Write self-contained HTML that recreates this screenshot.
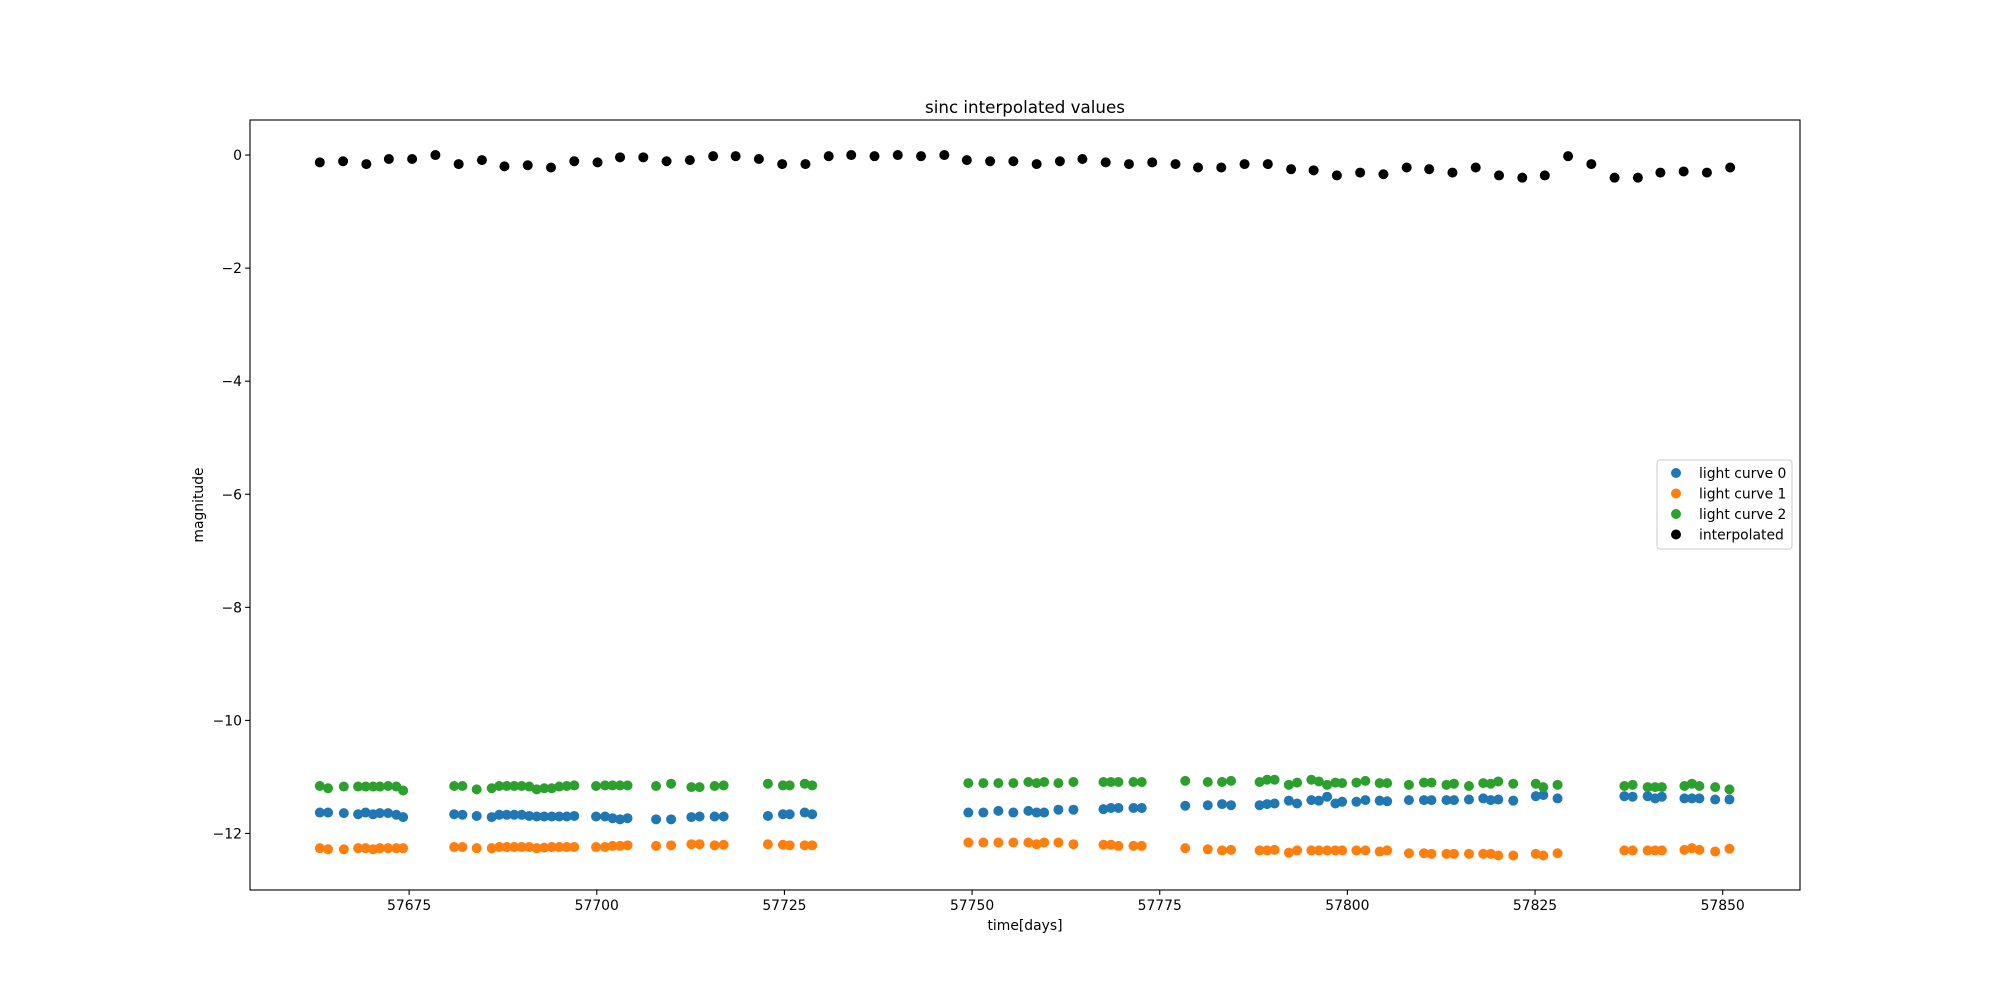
<!DOCTYPE html>
<html><head><meta charset="utf-8"><style>
html,body{margin:0;padding:0;background:#fff;}
svg{display:block;font-family:"DejaVu Sans","Liberation Sans",sans-serif;}
</style></head><body>
<svg id="chart" width="2000" height="1000" viewBox="0 0 2000 1000" xmlns="http://www.w3.org/2000/svg">
<rect x="0" y="0" width="2000" height="1000" fill="#fff"/>
<text x="1025" y="113" font-size="16.7" text-anchor="middle">sinc interpolated values</text>
<g id="marks"></g>
<g id="axes"></g>
<text x="1025" y="930" font-size="13.9" text-anchor="middle">time[days]</text>
<text transform="translate(203,505) rotate(-90)" font-size="13.9" text-anchor="middle">magnitude</text>
<g id="legend"></g>
</svg>
<script>
const lcDays = [57663.1,57664.2,57666.3,57668.2,57669.2,57670.2,57671.1,57672.2,57673.3,57674.2,
57681.0,57682.1,57684.0,57686.0,57687.0,57688.0,57689.0,57690.0,57691.0,57692.0,57693.0,57694.0,57695.0,57696.0,57697.0,
57699.9,57701.1,57702.1,57703.1,57704.1,57707.9,57709.9,57712.6,57713.7,57715.7,57716.9,
57722.8,57724.8,57725.7,57727.7,57728.7,
57749.5,57751.5,57753.5,57755.5,57757.5,57758.6,57759.6,57761.5,57763.5,
57767.5,57768.5,57769.5,57771.5,57772.6,57778.4,57781.4,57783.3,57784.5,57788.3,57789.3,57790.3,57792.2,57793.3,
57795.2,57796.2,57797.3,57798.4,57799.3,57801.2,57802.4,57804.3,
57805.3,57808.2,57810.2,57811.2,57813.2,57814.2,57816.2,57818.1,57819.1,57820.1,57822.1,57825.1,57826.1,57828.0,
57836.9,57838.0,57840.0,57841.0,57841.9,57844.9,57845.9,57846.9,57849.0,57850.9];
const curve0 = [-11.63,-11.63,-11.64,-11.66,-11.63,-11.66,-11.64,-11.64,-11.67,-11.71,
-11.66,-11.67,-11.69,-11.71,-11.67,-11.67,-11.67,-11.67,-11.69,-11.70,-11.70,-11.70,-11.70,-11.70,-11.69,
-11.70,-11.70,-11.73,-11.75,-11.73,-11.75,-11.75,-11.71,-11.70,-11.70,-11.70,
-11.69,-11.66,-11.66,-11.63,-11.66,
-11.63,-11.63,-11.60,-11.63,-11.60,-11.63,-11.63,-11.58,-11.58,
-11.57,-11.55,-11.55,-11.55,-11.55,-11.51,-11.50,-11.48,-11.50,-11.50,-11.48,-11.47,-11.42,-11.47,
-11.41,-11.42,-11.35,-11.47,-11.44,-11.44,-11.41,-11.42,
-11.43,-11.41,-11.41,-11.41,-11.41,-11.41,-11.40,-11.38,-11.41,-11.40,-11.42,-11.34,-11.32,-11.38,
-11.34,-11.35,-11.34,-11.38,-11.35,-11.38,-11.38,-11.38,-11.40,-11.40];
const curve1 = [-12.26,-12.28,-12.28,-12.26,-12.26,-12.28,-12.26,-12.26,-12.26,-12.26,
-12.24,-12.24,-12.26,-12.26,-12.24,-12.24,-12.24,-12.24,-12.24,-12.26,-12.25,-12.24,-12.24,-12.24,-12.24,
-12.24,-12.24,-12.22,-12.22,-12.21,-12.22,-12.21,-12.19,-12.19,-12.21,-12.20,
-12.19,-12.20,-12.21,-12.21,-12.21,
-12.16,-12.16,-12.16,-12.16,-12.16,-12.19,-12.16,-12.16,-12.19,
-12.20,-12.20,-12.22,-12.22,-12.22,-12.26,-12.28,-12.30,-12.29,-12.30,-12.30,-12.29,-12.34,-12.30,
-12.30,-12.30,-12.30,-12.30,-12.30,-12.30,-12.30,-12.32,
-12.30,-12.35,-12.35,-12.36,-12.36,-12.36,-12.36,-12.36,-12.36,-12.39,-12.39,-12.36,-12.39,-12.35,
-12.30,-12.30,-12.30,-12.30,-12.30,-12.29,-12.26,-12.29,-12.32,-12.27];
const curve2 = [-11.16,-11.20,-11.17,-11.17,-11.17,-11.17,-11.17,-11.16,-11.17,-11.24,
-11.16,-11.16,-11.22,-11.20,-11.16,-11.16,-11.16,-11.16,-11.17,-11.22,-11.20,-11.20,-11.17,-11.16,-11.15,
-11.16,-11.15,-11.15,-11.15,-11.15,-11.16,-11.12,-11.18,-11.18,-11.16,-11.15,
-11.12,-11.15,-11.15,-11.12,-11.15,
-11.11,-11.11,-11.11,-11.11,-11.09,-11.11,-11.09,-11.11,-11.09,
-11.09,-11.09,-11.09,-11.09,-11.09,-11.07,-11.09,-11.09,-11.07,-11.09,-11.05,-11.05,-11.14,-11.10,
-11.05,-11.08,-11.14,-11.10,-11.11,-11.10,-11.07,-11.11,
-11.11,-11.14,-11.10,-11.10,-11.14,-11.12,-11.16,-11.11,-11.12,-11.08,-11.12,-11.12,-11.18,-11.14,
-11.16,-11.14,-11.18,-11.18,-11.18,-11.16,-11.12,-11.16,-11.18,-11.22];
const interpDays = [57663.1,57666.2,57669.3,57672.3,57675.4,57678.5,57681.6,57684.7,57687.7,57690.8,
57693.9,57697.0,57700.1,57703.1,57706.2,57709.3,57712.4,57715.5,57718.5,57721.6,
57724.7,57727.8,57730.9,57733.9,57737.0,57740.1,57743.2,57746.3,57749.3,57752.4,
57755.5,57758.6,57761.7,57764.7,57767.8,57770.9,57774.0,57777.1,57780.1,57783.2,
57786.3,57789.4,57792.5,57795.5,57798.6,57801.7,57804.8,57807.9,57810.9,57814.0,
57817.1,57820.2,57823.3,57826.3,57829.4,57832.5,57835.6,57838.7,57841.7,57844.8,57847.9,57851.0];
const interpVals = [-0.13,-0.11,-0.16,-0.07,-0.07,0,-0.16,-0.09,-0.2,-0.18,
-0.22,-0.11,-0.13,-0.04,-0.04,-0.11,-0.09,-0.02,-0.02,-0.07,
-0.16,-0.16,-0.02,0,-0.02,0,-0.02,0,-0.09,-0.11,
-0.11,-0.16,-0.11,-0.07,-0.13,-0.16,-0.13,-0.16,-0.22,-0.22,
-0.16,-0.16,-0.25,-0.27,-0.36,-0.31,-0.34,-0.22,-0.25,-0.31,
-0.22,-0.36,-0.4,-0.36,-0.02,-0.16,-0.4,-0.4,-0.31,-0.29,-0.31,-0.22];
const xTicks = [57675,57700,57725,57750,57775,57800,57825,57850];
const yTicks = [0,-2,-4,-6,-8,-10,-12];
const yTickLabels = ["0","\u22122","\u22124","\u22126","\u22128","\u221210","\u221212"];
const legendLabels = ["light curve 0","light curve 1","light curve 2","interpolated"];

const NS="http://www.w3.org/2000/svg";
const L=250,R=1800,T=120,B=890;
const X0=57653.8,X1=57860.3,Y0=-13.0,Y1=0.62;
const MR=5;
function sx(v){return L+(v-X0)/(X1-X0)*(R-L);}
function sy(v){return B-(v-Y0)/(Y1-Y0)*(B-T);}
function mk(tag,attrs,parent){const e=document.createElementNS(NS,tag);for(const k in attrs)e.setAttribute(k,attrs[k]);parent.appendChild(e);return e;}
const marks=document.getElementById('marks');
const series=[[lcDays,curve0,'#1f77b4','light-curve-0'],[lcDays,curve1,'#ff7f0e','light-curve-1'],[lcDays,curve2,'#2ca02c','light-curve-2'],[interpDays,interpVals,'#000000','interpolated']];
series.forEach(s=>{
  const g=mk('g',{},marks);
  
  
  for(let i=0;i<s[0].length;i++){
    const c=mk('circle',{cx:sx(s[0][i]),cy:sy(s[1][i]),r:MR,fill:s[2]},g);
    
    
  }
});
const axes=document.getElementById('axes');
const frame=mk('rect',{x:L,y:T,width:R-L,height:B-T,fill:'none',stroke:'#000','stroke-width':1.1},axes);


xTicks.forEach(t=>{
  const x=sx(t);
  mk('line',{x1:x,x2:x,y1:B,y2:B+4.9,stroke:'#000','stroke-width':1.1},axes);
  const tx=mk('text',{x:x,y:B+20,'font-size':13.9,'text-anchor':'middle'},axes);
  tx.textContent=t;
  
  
});
yTicks.forEach((t,i)=>{
  const y=sy(t);
  mk('line',{x1:L-4.9,x2:L,y1:y,y2:y,stroke:'#000','stroke-width':1.1},axes);
  const tx=mk('text',{x:L-8,y:y+5,'font-size':13.9,'text-anchor':'end'},axes);
  tx.textContent=yTickLabels[i];
  
  
});
const lg=document.getElementById('legend');
mk('rect',{x:1657,y:460,width:135,height:89,rx:3,fill:'#fff',stroke:'#ccc','stroke-width':1},lg);
const lcols=['#1f77b4','#ff7f0e','#2ca02c','#000000'];
legendLabels.forEach((lab,i)=>{
  const y=473+i*20.5;
  const e=mk('g',{},lg);
  
  
  mk('circle',{cx:1676,cy:y,r:MR,fill:lcols[i]},e);
  const tx=mk('text',{x:1699,y:y+5,'font-size':13.9},e);
  tx.textContent=lab;
});
</script>
</body></html>
